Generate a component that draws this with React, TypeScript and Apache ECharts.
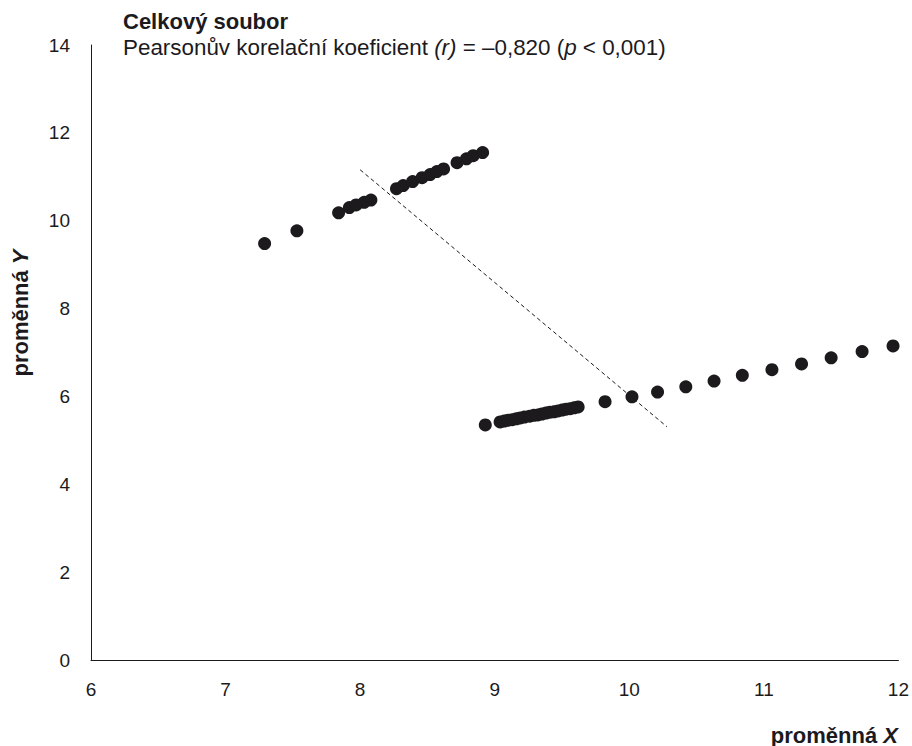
import React, { useEffect, useRef } from "react";
import * as echarts from "echarts";

const titleText = "Celkový soubor";
const subtitleText = "Pearsonův korelační koeficient {i|(r)} = –0,820 ({i|p} < 0,001)";
const xAxisName = "proměnná {i|X}";
const yAxisName = "proměnná {i|Y}";

const xValues = [
  7.29, 7.53, 7.84, 7.92, 7.97, 8.03, 8.08,
  8.27, 8.32, 8.39, 8.46, 8.52, 8.57, 8.62, 8.72, 8.79, 8.84, 8.91,
  8.93, 9.04, 9.07, 9.10, 9.13, 9.16, 9.19, 9.22, 9.26, 9.29, 9.32,
  9.35, 9.38, 9.41, 9.44, 9.47, 9.50, 9.53, 9.56, 9.59, 9.62,
  9.82, 10.02, 10.21, 10.42, 10.63, 10.84, 11.06, 11.28, 11.50, 11.73, 11.96,
];
const yValues = [
  9.48, 9.77, 10.18, 10.30, 10.36, 10.42, 10.47,
  10.73, 10.80, 10.89, 10.98, 11.05, 11.12, 11.18, 11.32, 11.41, 11.48, 11.55,
  5.35, 5.42, 5.44, 5.46, 5.47, 5.49, 5.51, 5.53, 5.55, 5.57, 5.58,
  5.60, 5.62, 5.64, 5.65, 5.67, 5.69, 5.71, 5.72, 5.74, 5.76,
  5.88, 5.99, 6.10, 6.22, 6.35, 6.48, 6.61, 6.74, 6.88, 7.02, 7.15,
];
const trendX = [8.0, 10.28];
const trendY = [11.16, 5.31];

const xTicks = { min: 6, max: 12, interval: 1 };
const yTicks = { min: 0, max: 14, interval: 2 };

const FONT = "'Liberation Sans', Arial, sans-serif";
const INK = "#1c1a1d";

export default function App() {
  const ref = useRef<HTMLDivElement>(null);
  useEffect(() => {
    if (!ref.current) return;
    const chart = echarts.init(ref.current, null, { renderer: "svg" });
    const points = xValues.map((x, i) => [x, yValues[i]]);
    const trend = trendX.map((x, i) => [x, trendY[i]]);
    const italicBold = { fontFamily: FONT, fontSize: 22, fontWeight: "bold", fontStyle: "italic", fill: INK, color: INK };
    chart.setOption({
      animation: false,
      backgroundColor: "#ffffff",
      textStyle: { fontFamily: FONT },
      title: [
        {
          text: titleText,
          left: 118,
          top: 5,
          textStyle: { fontFamily: FONT, fontSize: 22, fontWeight: "bold", color: INK },
        },
        {
          text: subtitleText,
          left: 118,
          top: 31,
          textStyle: {
            fontFamily: FONT,
            fontSize: 22.4,
            fontWeight: "normal",
            color: INK,
            rich: { i: { fontFamily: FONT, fontSize: 22.4, fontStyle: "italic", color: INK } },
          },
        },
      ],
      graphic: [
        {
          type: "text",
          x: 20,
          y: 313,
          rotation: Math.PI / 2,
          style: {
            text: yAxisName,
            fontFamily: FONT,
            fontSize: 22,
            fontWeight: "bold",
            fill: INK,
            align: "center",
            verticalAlign: "middle",
            rich: { i: italicBold },
          },
        },
        {
          type: "text",
          x: 898,
          y: 735,
          style: {
            text: xAxisName,
            fontFamily: FONT,
            fontSize: 22,
            fontWeight: "bold",
            fill: INK,
            align: "right",
            verticalAlign: "middle",
            rich: { i: italicBold },
          },
        },
      ],
      grid: { left: 91, right: 13, top: 45, bottom: 86, containLabel: false },
      xAxis: {
        type: "value",
        min: xTicks.min,
        max: xTicks.max,
        interval: xTicks.interval,
        splitLine: { show: false },
        axisTick: { show: false },
        axisLine: { show: true, lineStyle: { color: INK, width: 1 } },
        axisLabel: { fontFamily: FONT, fontSize: 19, color: INK, margin: 20 },
      },
      yAxis: {
        type: "value",
        min: yTicks.min,
        max: yTicks.max,
        interval: yTicks.interval,
        splitLine: { show: false },
        axisTick: { show: false },
        axisLine: { show: true, lineStyle: { color: INK, width: 1 } },
        axisLabel: { fontFamily: FONT, fontSize: 19, color: INK, margin: 21 },
      },
      series: [
        {
          type: "line",
          data: trend,
          symbol: "none",
          lineStyle: { color: INK, width: 1, type: [4, 3] },
          z: 1,
        },
        {
          type: "scatter",
          data: points,
          symbol: "circle",
          symbolSize: 13,
          itemStyle: { color: INK, opacity: 1 },
          z: 2,
        },
      ],
    });
    return () => chart.dispose();
  }, []);
  return (
    <div
      ref={ref}
      style={{ position: "fixed", left: 0, top: 0, width: 912, height: 746, background: "#fff" }}
    />
  );
}
